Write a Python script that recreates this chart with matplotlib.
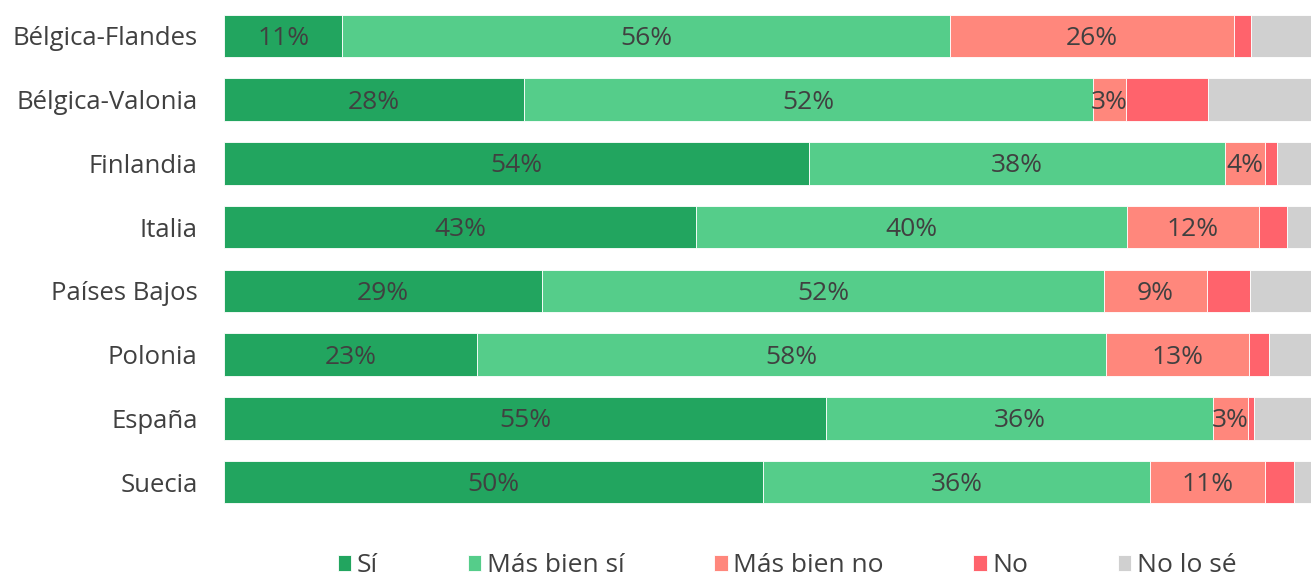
import matplotlib
matplotlib.use("Agg")
import matplotlib.pyplot as plt
import numpy as np

categories = ["Bélgica-Flandes", "Bélgica-Valonia", "Finlandia", "Italia",
              "Países Bajos", "Polonia", "España", "Suecia"]
series_names = ["Sí", "Más bien sí", "Más bien no", "No", "No lo sé"]
si          = [10.9, 27.6, 53.8, 43.4, 29.3, 23.3, 55.4, 49.6]
mas_bien_si = [55.9, 52.3, 38.3, 39.7, 51.7, 57.8, 35.6, 35.6]
mas_bien_no = [26.1, 3.1, 3.7, 12.1, 9.4, 13.2, 3.2, 10.6]
no          = [1.6, 7.5, 1.1, 2.6, 4.0, 1.8, 0.6, 2.6]
no_lo_se    = [5.5, 9.5, 3.1, 2.2, 5.6, 3.9, 5.2, 1.6]
colors = ["#22A55F", "#55CD8A", "#FF877C", "#FF636C", "#D0D0D0"]
labelled = [True, True, True, False, False]

plt.rcParams['font.family'] = ['Open Sans', 'DejaVu Sans']
text_color = "#404040"

fig = plt.figure(figsize=(13.11, 5.83), dpi=100)
ax = fig.add_axes([224/1311, 1 - 514/583, 1 - 224/1311, 510/583])

y = np.arange(len(categories))
data = [si, mas_bien_si, mas_bien_no, no, no_lo_se]
left = np.zeros(len(categories))
for name, vals, col, lab in zip(series_names, data, colors, labelled):
    vals = np.array(vals)
    ax.barh(y, vals, left=left, height=0.67, color=col, label=name,
            edgecolor="white", linewidth=0.6)
    if lab:
        for yi, l, v in zip(y, left, vals):
            ax.text(l + v / 2, yi + 0.04, f"{round(v):d}%", ha="center", va="center",
                    fontsize=19, color=text_color)
    left += vals

ax.set_xlim(0, 100)
ax.set_ylim(len(categories) - 0.5, -0.5)
ax.set_yticks(y)
ax.set_yticklabels(categories, fontsize=18.5, color=text_color)
ax.tick_params(axis="y", length=0, pad=19)
ax.set_xticks([])
for s in ax.spines.values():
    s.set_visible(False)

leg = fig.legend(loc="center left", bbox_to_anchor=(314/1311, 1 - 566/583), ncol=5,
                 frameon=False, fontsize=19, handlelength=0.52, handleheight=0.52,
                 handletextpad=0.2, columnspacing=3.4, labelcolor=text_color)

fig.savefig("out.png", dpi=100)
